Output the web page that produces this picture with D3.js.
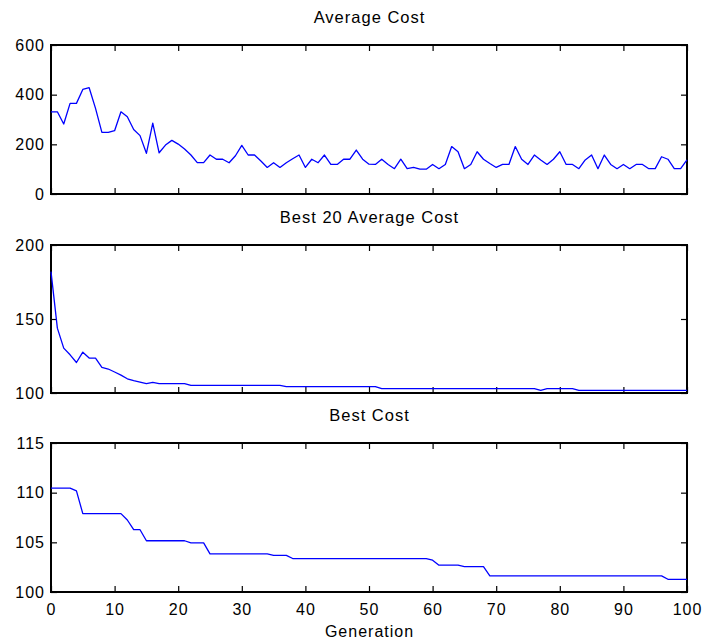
<!DOCTYPE html>
<html>
<head>
<meta charset="utf-8">
<script src="https://cdn.jsdelivr.net/npm/d3@7"></script>
<style>
  html, body { margin: 0; padding: 0; background: #fff; }
  svg { display: block; }
  text { font-family: "Liberation Sans", Arial, sans-serif; }
</style>
</head>
<body>
<script>
const avgCost = [331,331,282,365,365,421,428,345,248,248,255,331,311,260,235,164,285,166,197,216,
  201,181,157,126,126,157,140,140,126,154,196,157,157,133,107,126,107,126,142,157,
  107,140,126,157,119,119,140,140,177,140,120,119,140,119,102,140,102,107,100,100,
  119,102,119,191,170,102,119,170,140,123,107,119,119,191,140,119,157,137,119,140,
  170,119,119,102,137,157,102,157,119,102,119,102,119,119,102,102,150,140,102,102,137];

const best20Cost = [182,143.8,130.3,125.8,120.6,127.6,123.6,123.6,117.3,116.2,114.2,112.1,109.6,108.3,107.4,106.3,107.2,
  106.3,106.3,106.3,106.3,106.3,
  105.1,105.1,105.1,105.1,105.1,105.1,105.1,105.1,105.1,105.1,105.1,105.1,105.1,105.1,105.1,
  104.3,104.3,104.3,104.3,104.3,104.3,104.3,104.3,104.3,104.3,104.3,104.3,104.3,104.3,104.3,
  102.9,102.9,102.9,102.9,102.9,102.9,102.9,102.9,102.9,102.9,102.9,102.9,102.9,102.9,102.9,102.9,102.9,102.9,102.9,102.9,102.9,102.9,102.9,102.9,102.9,
  101.8,
  102.9,102.9,102.9,102.9,102.9,
  101.8,101.8,101.8,101.8,101.8,101.8,101.8,101.8,101.8,101.8,101.8,101.8,101.8,101.8,101.8,101.8,101.8,101.8];

const bestCost = [110.45,110.45,110.45,110.45,110.18,
  107.89,107.89,107.89,107.89,107.89,107.89,107.89,
  107.25,106.27,106.27,
  105.16,105.16,105.16,105.16,105.16,105.16,105.16,
  104.95,104.95,104.95,
  103.84,103.84,103.84,103.84,103.84,103.84,103.84,103.84,103.84,103.84,
  103.68,103.68,103.68,
  103.37,103.37,103.37,103.37,103.37,103.37,103.37,103.37,103.37,103.37,103.37,
  103.37,103.37,103.37,103.37,103.37,103.37,103.37,103.37,103.37,103.37,103.37,
  103.2,
  102.7,102.7,102.7,102.7,
  102.56,102.56,102.56,102.56,
  101.62,101.62,101.62,101.62,101.62,101.62,101.62,101.62,101.62,101.62,101.62,101.62,101.62,101.62,
  101.62,101.62,101.62,101.62,101.62,101.62,101.62,101.62,101.62,101.62,101.62,101.62,101.62,101.62,
  101.28,101.28,101.28,101.28];

const titles = ["Average Cost", "Best 20 Average Cost", "Best Cost"];
const yDomains = [[0, 600], [100, 200], [100, 115]];
const yTicks = [[0, 200, 400, 600], [100, 150, 200], [100, 105, 110, 115]];
const xTicks = [0, 10, 20, 30, 40, 50, 60, 70, 80, 90, 100];
const xLabel = "Generation";
const series = [avgCost, best20Cost, bestCost];

const W = 704, H = 644;
const left = 51, right = 687;
const panels = [{top: 45, bottom: 194}, {top: 245, bottom: 393}, {top: 443, bottom: 592}];

const svg = d3.select("body").append("svg").attr("width", W).attr("height", H);

const x = d3.scaleLinear().domain([0, 100]).range([left, right]);

panels.forEach((p, i) => {
  const y = d3.scaleLinear().domain(yDomains[i]).range([p.bottom, p.top]);
  const g = svg.append("g");

  // title
  g.append("text")
    .attr("x", (left + right) / 2 + 0.5)
    .attr("y", p.top - 22.5)
    .attr("text-anchor", "middle")
    .attr("font-size", 16.5)
    .attr("letter-spacing", 1)
    .attr("fill", "#000")
    .text(titles[i]);

  const styleAxis = sel => {
    sel.select(".domain").remove();
    sel.selectAll(".tick line").attr("stroke", "#000").attr("stroke-width", 1.2);
    sel.selectAll(".tick text")
      .attr("font-size", 16)
      .attr("letter-spacing", 1)
      .attr("font-family", "'Liberation Sans', Arial, sans-serif")
      .attr("fill", "#000");
  };

  // left axis with labels
  g.append("g").attr("transform", `translate(${left},0)`)
    .call(d3.axisLeft(y).tickValues(yTicks[i]).tickSizeInner(-6).tickSizeOuter(0).tickPadding(6).tickFormat(d3.format("d")))
    .call(styleAxis);
  // right axis, inward ticks, no labels
  g.append("g").attr("transform", `translate(${right},0)`)
    .call(d3.axisRight(y).tickValues(yTicks[i]).tickSizeInner(-6).tickSizeOuter(0).tickFormat(""))
    .call(styleAxis);
  // top axis
  g.append("g").attr("transform", `translate(0,${p.top})`)
    .call(d3.axisTop(x).tickValues(xTicks).tickSizeInner(-6).tickSizeOuter(0).tickFormat(""))
    .call(styleAxis);
  // bottom axis
  g.append("g").attr("transform", `translate(0,${p.bottom})`)
    .call(d3.axisBottom(x).tickValues(xTicks).tickSizeInner(-6).tickSizeOuter(0).tickPadding(11.5)
      .tickFormat(i === 2 ? d3.format("d") : ""))
    .call(styleAxis);

  // frame
  g.append("rect")
    .attr("x", left).attr("y", p.top)
    .attr("width", right - left).attr("height", p.bottom - p.top)
    .attr("fill", "none").attr("stroke", "#000").attr("stroke-width", 2);

  // line
  const line = d3.line().x((d, k) => x(k)).y(d => y(d));
  g.append("path")
    .datum(series[i])
    .attr("d", line)
    .attr("fill", "none")
    .attr("stroke", "#0000ff")
    .attr("stroke-width", 1.3)
    .attr("stroke-linejoin", "round");
});

svg.append("text")
  .attr("x", (left + right) / 2 + 0.5)
  .attr("y", 637)
  .attr("text-anchor", "middle")
  .attr("font-size", 16)
  .attr("letter-spacing", 1)
  .attr("fill", "#000")
  .text(xLabel);
</script>
</body>
</html>
